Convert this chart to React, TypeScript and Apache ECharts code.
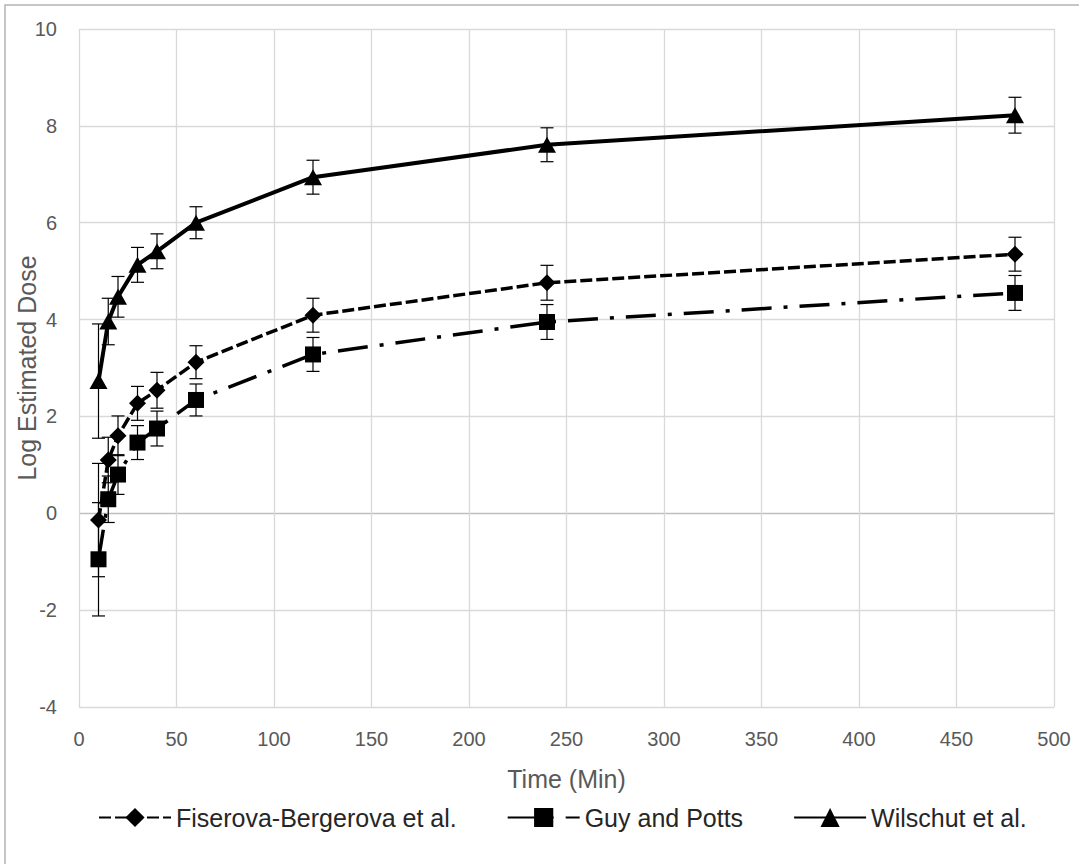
import React, { useEffect, useRef } from "react";
import * as echarts from "echarts";

const times = [10, 15, 20, 30, 40, 60, 120, 240, 480];

const fiserova = [-0.14, 1.1, 1.6, 2.27, 2.54, 3.12, 4.09, 4.76, 5.35];
const fiserovaErr = [1.17, 0.47, 0.41, 0.35, 0.37, 0.34, 0.35, 0.36, 0.35];

const guy = [-0.95, 0.29, 0.8, 1.46, 1.75, 2.34, 3.28, 3.95, 4.55];
const guyErr = [1.17, 0.48, 0.41, 0.35, 0.36, 0.33, 0.35, 0.36, 0.36];

const wilschut = [2.73, 3.96, 4.47, 5.13, 5.41, 6.0, 6.94, 7.61, 8.22];
const wilschutErr = [1.18, 0.48, 0.42, 0.36, 0.36, 0.33, 0.35, 0.35, 0.37];

const seriesNames = ["Fiserova-Bergerova et al.", "Guy and Potts", "Wilschut et al."];

const FONT = "'Liberation Sans', Arial, sans-serif";

function pairs(vals: number[]) {
  return times.map((t, i) => [t, vals[i]]);
}
function errs(vals: number[], e: number[]) {
  return times.map((t, i) => [t, vals[i] - e[i], vals[i] + e[i]]);
}

function errorRender(params: any, api: any) {
  const x = api.value(0);
  const lo = api.value(1);
  const hi = api.value(2);
  const pLo = api.coord([x, lo]);
  const pHi = api.coord([x, hi]);
  const w = 6.5;
  const st = { stroke: "#000", lineWidth: 1.2 };
  return {
    type: "group",
    children: [
      { type: "line", shape: { x1: pLo[0], y1: pLo[1], x2: pHi[0], y2: pHi[1] }, style: st },
      { type: "line", shape: { x1: pLo[0] - w, y1: pLo[1], x2: pLo[0] + w, y2: pLo[1] }, style: st },
      { type: "line", shape: { x1: pHi[0] - w, y1: pHi[1], x2: pHi[0] + w, y2: pHi[1] }, style: st },
    ],
  };
}

function errSeries(data: number[][]) {
  return {
    type: "custom",
    renderItem: errorRender,
    data,
    encode: { x: 0, y: [1, 2] },
    z: 3,
    silent: true,
  };
}

export default function App() {
  const ref = useRef<HTMLDivElement>(null);
  useEffect(() => {
    document.body.style.margin = "0";
    if (!ref.current) return;
    const chart = echarts.init(ref.current, null, { renderer: "svg" });
    const gridColors = ["#d9d9d9", "#d9d9d9", "#bfbfbf", "#d9d9d9", "#d9d9d9", "#d9d9d9", "#d9d9d9", "#d9d9d9"];
    chart.setOption({
      animation: false,
      textStyle: { fontFamily: FONT },
      graphic: [
        {
          type: "rect",
          shape: { x: 5, y: 5, width: 1200, height: 1000 },
          style: { fill: "none", stroke: "#b4b4b4", lineWidth: 1.5 },
          silent: true,
        },
      ],
      grid: { left: 79, right: 25, top: 29, bottom: 157, containLabel: false, outerBoundsMode: "none" },
      legend: {
        data: seriesNames,
        left: 98,
        top: 805,
        padding: 0,
        itemWidth: 72,
        itemHeight: 24,
        itemGap: 50,
        textStyle: { fontSize: 25, color: "#262626", fontFamily: FONT },
      },
      xAxis: {
        type: "value",
        min: 0,
        max: 500,
        interval: 50,
        axisLine: { show: false },
        axisTick: { show: false },
        axisLabel: { fontSize: 20, color: "#595959", margin: 22, fontFamily: FONT },
        splitLine: { show: true, lineStyle: { color: "#d9d9d9", width: 1.3 } },
        name: "Time (Min)",
        nameLocation: "middle",
        nameGap: 59,
        nameMoveOverlap: false,
        nameTextStyle: { fontSize: 25, color: "#595959", fontFamily: FONT },
      },
      yAxis: {
        type: "value",
        min: -4,
        max: 10,
        interval: 2,
        axisLine: { show: false },
        axisTick: { show: false },
        axisLabel: { fontSize: 20, color: "#595959", margin: 22, fontFamily: FONT },
        splitLine: { show: true, lineStyle: { color: gridColors, width: 1.3 } },
        name: "Log Estimated Dose",
        nameLocation: "middle",
        nameGap: 40,
        nameMoveOverlap: false,
        nameTextStyle: { fontSize: 25, color: "#595959", fontFamily: FONT },
      },
      series: [
        {
          name: seriesNames[0],
          type: "line",
          data: pairs(fiserova),
          symbol: "diamond",
          symbolSize: [17, 17],
          itemStyle: { color: "#000" },
          lineStyle: { color: "#000", width: 3.5, type: [12, 4] },
          z: 2,
        },
        {
          name: seriesNames[1],
          type: "line",
          data: pairs(guy),
          symbol: "rect",
          symbolSize: [16, 16],
          itemStyle: { color: "#000" },
          lineStyle: { color: "#000", width: 3.5, type: [30, 12, 4, 12] },
          z: 2,
        },
        {
          name: seriesNames[2],
          type: "line",
          data: pairs(wilschut),
          symbol: "triangle",
          symbolSize: [18, 16],
          itemStyle: { color: "#000" },
          lineStyle: { color: "#000", width: 4 },
          z: 2,
        },
        errSeries(errs(fiserova, fiserovaErr)),
        errSeries(errs(guy, guyErr)),
        errSeries(errs(wilschut, wilschutErr)),
      ],
    });
    return () => chart.dispose();
  }, []);
  return <div ref={ref} style={{ width: 1079, height: 864 }} />;
}
